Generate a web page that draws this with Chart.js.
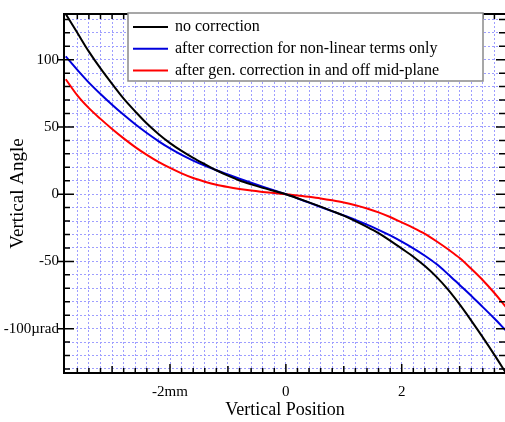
<!DOCTYPE html>
<html><head><meta charset="utf-8">
<script src="https://cdn.jsdelivr.net/npm/chart.js@4/dist/chart.umd.min.js"></script>
<style>
html,body{margin:0;padding:0;overflow:hidden;background:#fff;width:505px;height:422px}
#wrap{width:505px;height:422px;overflow:hidden;position:relative}
canvas{display:block}
</style>
</head><body><div id="wrap"><canvas id="c" width="506" height="422" style="width:506px;height:422px"></canvas></div>
<script>
const positions = [-3.8,-3.6,-3.4,-3.2,-3.0,-2.8,-2.6,-2.4,-2.2,-2.0,-1.8,-1.6,-1.4,-1.2,-1.0,-0.8,-0.6,-0.4,-0.2,0,0.2,0.4,0.6,0.8,1.0,1.2,1.4,1.6,1.8,2.0,2.2,2.4,2.6,2.8,3.0,3.2,3.4,3.6,3.8];
const noCorrection = [134,120,106,93.5,82,71,61.5,52.5,44.8,38,32.2,27,22.3,17.8,13.8,10.2,7.3,4.7,2.3,0,-3,-6.1,-9.3,-12.6,-16,-20,-24.3,-29,-34.5,-40.5,-46.5,-53.5,-61.5,-71,-82,-94,-106.5,-119.5,-133];
const nonLinearOnly = [102.5,92.5,83,74.5,66.5,59,52,45.5,39.5,34,29.2,25,21.2,17.8,14.6,11.5,8.5,5.6,2.8,0,-3.1,-6.3,-9.5,-12.7,-15.9,-19.2,-22.7,-26.5,-30.7,-35.3,-40.3,-45.8,-52,-59.5,-67.5,-75.5,-84,-92.5,-101.5];
const genCorrection = [85.5,73.5,64,56,48.5,41.5,35,29.2,24,19.5,15.5,12,9.3,7,5.3,3.9,2.7,1.7,0.8,0,-0.9,-2,-3.2,-4.6,-6.2,-8.2,-10.6,-13.5,-17,-21,-25,-29.5,-35,-41,-47.5,-55.5,-64,-73.5,-84];
const seriesLabels = ['no correction','after correction for non-linear terms only','after gen. correction in and off mid-plane'];
const seriesColors = ['#000000','#0000dd','#ff0000'];
const xTickValues = [-2,0,2];
const xTickLabels = ['-2mm','0','2'];
const yTickValues = [100,50,0,-50,-100];
const yTickLabels = ['100','50','0','-50','-100µrad'];
const xTitle = 'Vertical Position';
const yTitle = 'Vertical Angle';

const FONT = "'Liberation Serif','Times New Roman',serif";
const seriesData = [noCorrection, nonLinearOnly, genCorrection];

function mkTicks(from, to, step){
  const out=[]; const n=Math.round((to-from)/step);
  for(let i=0;i<=n;i++){ out.push({value: Math.round((from+i*step)*1000)/1000}); }
  return out;
}
function near(a,b){return Math.abs(a-b)<1e-6;}

const frame = {
  id:'frame',
  afterDraw(chart){
    const {ctx, chartArea:a, scales:{x,y}} = chart;
    ctx.save();
    ctx.strokeStyle='#000';
    ctx.lineWidth=1.5;
    ctx.beginPath();
    x.ticks.forEach(t=>{
      const px=x.getPixelForValue(t.value);
      const v=t.value;
      let len=5;
      if(xTickValues.some(q=>near(q,v))) len=9;
      else if(near(v,Math.round(v))) len=7;
      ctx.moveTo(px,a.bottom); ctx.lineTo(px,a.bottom-len);
      ctx.moveTo(px,a.top); ctx.lineTo(px,a.top+5);
    });
    y.ticks.forEach(t=>{
      const py=y.getPixelForValue(t.value);
      const major=yTickValues.some(q=>near(q,t.value));
      if(major){ ctx.moveTo(a.left-6,py); ctx.lineTo(a.left+10,py); ctx.moveTo(a.right,py); ctx.lineTo(a.right-10,py); }
      else { ctx.moveTo(a.left,py); ctx.lineTo(a.left+6,py); ctx.moveTo(a.right,py); ctx.lineTo(a.right-7,py); }
    });
    ctx.stroke();
    ctx.lineWidth=2;
    ctx.beginPath();
    ctx.moveTo(a.left,a.top); ctx.lineTo(a.right,a.top); ctx.lineTo(a.right,a.bottom); ctx.lineTo(a.left,a.bottom); ctx.closePath();
    ctx.stroke();
    // legend
    const bx=128,by=13,bw=355,bh=68;
    ctx.fillStyle='#fff';
    ctx.fillRect(bx,by,bw,bh);
    ctx.strokeStyle='#8a8a8a'; ctx.lineWidth=1.5;
    ctx.strokeRect(bx,by,bw,bh);
    ctx.font='16px '+FONT;
    ctx.textBaseline='middle'; ctx.textAlign='left';
    chart.data.datasets.forEach((ds,i)=>{
      const ry=by+14+i*21.7;
      ctx.strokeStyle=ds.borderColor; ctx.lineWidth=2;
      ctx.beginPath(); ctx.moveTo(bx+5,ry); ctx.lineTo(bx+40,ry); ctx.stroke();
      ctx.fillStyle='#000';
      ctx.fillText(ds.label,bx+47,ry);
    });
    ctx.restore();
  }
};

new Chart(document.getElementById('c'),{
  type:'line',
  data:{datasets: seriesData.map((arr,i)=>({
    label: seriesLabels[i],
    data: positions.map((p,j)=>({x:p,y:arr[j]})),
    borderColor: seriesColors[i],
    borderWidth: 2,
    pointRadius: 0,
    cubicInterpolationMode: 'monotone',
    fill:false
  }))},
  options:{
    responsive:false,
    animation:false,
    devicePixelRatio:1,
    layout:{padding:{left:0,top:10,right:0,bottom:0}},
    plugins:{legend:{display:false},tooltip:{enabled:false}},
    scales:{
      x:{
        type:'linear', min:-3.83, max:3.8,
        afterBuildTicks:s=>{s.ticks=mkTicks(-3.6,3.6,0.2);},
        afterFit:s=>{s.height=49;},
        grid:{color:'#9e9eff',lineWidth:1,drawTicks:false},
        border:{display:false,dash:[2,2]},
        ticks:{autoSkip:false,maxRotation:0,padding:10,color:'#000',font:{family:FONT,size:15},
          callback:v=>{const k=xTickValues.findIndex(q=>near(q,v));return k>=0?xTickLabels[k]:'';}},
        title:{display:true,text:xTitle,color:'#000',font:{family:FONT,size:18},padding:{top:0,bottom:1}}
      },
      y:{
        type:'linear', min:-133, max:134,
        afterBuildTicks:s=>{s.ticks=mkTicks(-130,130,10);},
        afterFit:s=>{s.width=64;},
        grid:{color:'#9e9eff',lineWidth:1,drawTicks:false},
        border:{display:false,dash:[2,2]},
        ticks:{autoSkip:false,padding:5,color:'#000',font:{family:FONT,size:15},
          callback:v=>{const k=yTickValues.findIndex(q=>near(q,v));return k>=0?yTickLabels[k]:'';}},
        title:{display:true,text:yTitle,color:'#000',font:{family:FONT,size:19},padding:{top:7,bottom:0}}
      }
    }
  },
  plugins:[frame]
});
</script>
</body></html>
